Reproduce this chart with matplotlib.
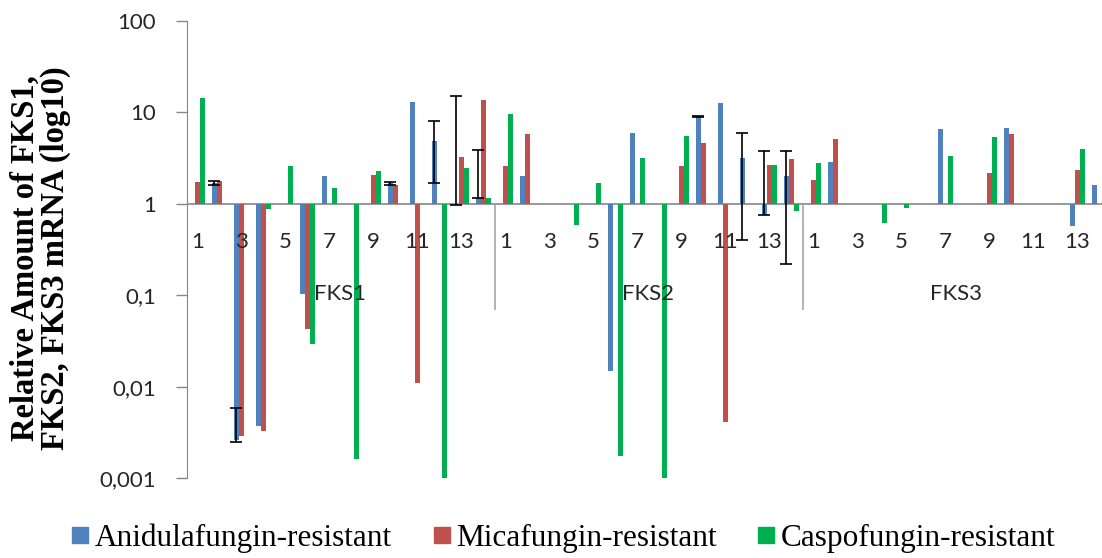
import matplotlib
matplotlib.use("Agg")
import matplotlib.pyplot as plt
from matplotlib.lines import Line2D
import numpy as np

genes = ["FKS1", "FKS2", "FKS3"]
strains = list(range(1, 15))
series = ["Anidulafungin-resistant", "Micafungin-resistant", "Caspofungin-resistant"]
colors = ["#4F81BD", "#C0504D", "#00B050"]

# relative amounts per strain, FKS1 | FKS2 | FKS3
anidula = [1, 1.68, 0.0026, 0.0037, 1, 0.103, 1.99, 1, 1, 1.68, 13.1, 4.88, 0.98, 1.17,
           1, 1.99, 1, 1, 1, 0.015, 5.92, 1, 1, 9.0, 12.8, 3.16, 0.745, 1.99,
           1, 2.85, 1, 1, 1, 1, 6.55, 1, 1, 6.82, 1, 1, 0.565, 1.61]
mica = [1.73, 1.78, 0.0029, 0.0033, 1, 0.043, 1, 1, 2.04, 1.61, 0.011, 1, 3.24, 13.7,
        2.6, 5.77, 1, 1, 1, 1, 1, 1, 2.6, 4.6, 0.0041, 1, 2.67, 3.08,
        1.8, 5.1, 1, 1, 1, 1, 1, 1, 2.2, 5.77, 1, 1, 2.35, 1]
caspo = [14.3, 1, 1, 0.875, 2.56, 0.029, 1.48, 0.0016, 2.28, 1, 1, 0.001, 2.49, 1.15,
         9.56, 1, 1, 0.58, 1.68, 0.00176, 3.16, 0.001, 5.53, 1, 1, 1, 2.67, 0.84,
         2.78, 1, 1, 0.615, 0.897, 1, 3.37, 1, 5.36, 1, 1, 1, 3.99, 0.95]

# error bars on the anidulafungin series (lower, upper); 0/0 = none
err_lo = [0, 0.08, 0.0001, 0, 0, 0, 0, 0, 0, 0.06, 0, 3.2, 0, 0,
          0, 0, 0, 0, 0, 0, 0, 0, 0, 0.15, 0, 2.76, 0, 1.77,
          0, 0, 0, 0, 0, 0, 0, 0, 0, 0, 0, 0, 0, 0]
err_hi = [0, 0.08, 0.0032, 0, 0, 0, 0, 0, 0, 0.07, 0, 3.25, 14, 2.66,
          0, 0, 0, 0, 0, 0, 0, 0, 0, 0.15, 0, 2.76, 3.05, 1.81,
          0, 0, 0, 0, 0, 0, 0, 0, 0, 0, 0, 0, 0, 0]

fig = plt.figure(figsize=(11.02, 5.58), dpi=100)
ax = fig.add_axes([186.5 / 1102, 1 - 478 / 558, 924 / 1102, 457 / 558])

x = np.arange(len(anidula))
w = 0.23
for i, (vals, c) in enumerate(zip([anidula, mica, caspo], colors)):
    v = np.array(vals, dtype=float)
    ax.bar(x + (i - 1) * w, v - 1, bottom=1, width=w, color=c, zorder=2)

lo = np.array(err_lo)
hi = np.array(err_hi)
m = (lo + hi) > 0
ax.errorbar(x[m] - w, np.array(anidula)[m], yerr=[lo[m], hi[m]], fmt="none",
            ecolor="black", elinewidth=1.2, capsize=4.5, capthick=1.2, zorder=3)

ax.set_yscale("log")
ax.set_ylim(0.001, 100)
ax.set_xlim(-0.5, len(anidula) - 0.5)
ax.set_yticks([0.001, 0.01, 0.1, 1, 10, 100])
ax.set_yticklabels(["0,001", "0,01", "0,1", "1", "10", "100"])
ax.yaxis.set_minor_locator(matplotlib.ticker.NullLocator())
ax.set_xticks([])
ax.tick_params(axis="y", direction="out", length=8, width=1, color="#868686",
               pad=14, labelsize=16, labelcolor="#262626")
for lab in ax.get_yticklabels():
    lab.set_family("Lato")
for s in ["top", "right", "bottom"]:
    ax.spines[s].set_visible(False)
ax.spines["left"].set_color("#868686")
ax.axhline(1, color="#868686", lw=1.2, zorder=1)

# category labels under the baseline
for g, gene in enumerate(genes):
    for k, s in enumerate(strains):
        if s % 2 == 1:
            ax.annotate(str(s), (g * 14 + k, 1), xytext=(0, -38), textcoords="offset pixels",
                        ha="center", va="center", fontsize=16, family="Lato", color="#262626")
    ax.annotate(gene, (g * 14 + 6.5, 1), xytext=(0, -90), textcoords="offset pixels",
                ha="center", va="center", fontsize=16, family="Lato", color="#262626")
    if g > 0:
        ax.vlines(g * 14 - 0.5, 10 ** (-106 / 91.4), 1, color="#a6a6a6", lw=1.2, zorder=1)

fig.text(40 / 1102, 1 - 258 / 558, "Relative Amount of FKS1,\nFKS2, FKS3 mRNA (log10)",
         rotation=90, ha="center", va="center", fontsize=23.5, fontweight="bold",
         family="Liberation Serif", linespacing=0.95, multialignment="center")

handles = [Line2D([], [], marker="s", linestyle="none", markersize=11.5,
                  markerfacecolor=c, markeredgecolor=c) for c in colors]
fig.legend(handles, series, loc="center", bbox_to_anchor=(563 / 1102, 1 - 538 / 558),
           ncol=3, frameon=False, prop={"family": "Liberation Serif", "size": 22.5},
           handlelength=0.6, handletextpad=0.15, columnspacing=1.3, borderpad=0)

fig.savefig("out.png", dpi=100)
